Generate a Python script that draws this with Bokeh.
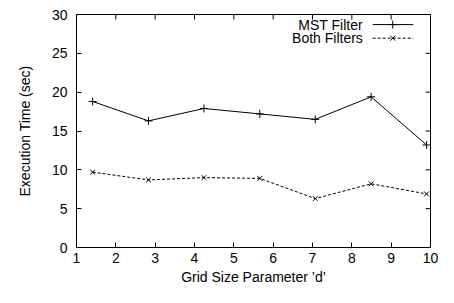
import math
from bokeh.plotting import figure
from bokeh.models import FixedTicker, Range1d, Label
from bokeh.embed import file_html
from bokeh.resources import INLINE

# ---- data ----
grid_d = [1.41, 2.83, 4.24, 5.66, 7.07, 8.49, 9.90]
mst_filter = [18.8, 16.3, 17.9, 17.2, 16.5, 19.4, 13.2]
both_filters = [9.7, 8.7, 9.0, 8.9, 6.3, 8.2, 6.9]
series_names = ["MST Filter", "Both Filters"]
x_ticks = [1, 2, 3, 4, 5, 6, 7, 8, 9, 10]
y_ticks = [0, 5, 10, 15, 20, 25, 30]
x_label = "Grid Size Parameter \u2019d\u2019"
y_label = "Execution Time (sec)"

FONT = "Liberation Sans"
FS = "14px"
X_MIN, X_MAX = 1, 10
Y_MIN, Y_MAX = 0, 30

p = figure(width=438, height=287,
           x_range=Range1d(X_MIN, X_MAX), y_range=Range1d(Y_MIN, Y_MAX),
           output_backend="svg", toolbar_location=None,
           min_border_left=76, min_border_right=8,
           min_border_top=14, min_border_bottom=38)

p.xgrid.visible = False
p.ygrid.visible = False
p.outline_line_color = "black"
p.outline_line_width = 1
p.background_fill_color = "white"
p.border_fill_color = "white"

for ax, ticks in ((p.xaxis[0], x_ticks), (p.yaxis[0], y_ticks)):
    ax.ticker = FixedTicker(ticks=ticks)
    ax.minor_tick_line_color = None
    ax.major_tick_in = 5
    ax.major_tick_out = 0
    ax.axis_line_color = "black"
    ax.major_tick_line_color = "black"
    ax.major_label_text_font = FONT
    ax.major_label_text_font_size = FS
    ax.major_label_text_color = "black"
    ax.axis_label_text_font = FONT
    ax.axis_label_text_font_size = FS
    ax.axis_label_text_font_style = "normal"
    ax.axis_label_text_color = "black"

p.xaxis.axis_label = x_label
p.yaxis.axis_label = y_label
p.xaxis.major_label_standoff = 5
p.xaxis.axis_label_standoff = 3
p.yaxis.major_label_standoff = 9
p.yaxis.axis_label_standoff = 16

# mirrored inward ticks on top and right (screen-length rays)
p.ray(x=x_ticks, y=[Y_MAX] * len(x_ticks), length=5, length_units="screen",
      angle=-math.pi / 2, line_color="black", line_width=1)
p.ray(x=[X_MAX] * len(y_ticks), y=y_ticks, length=5, length_units="screen",
      angle=math.pi, line_color="black", line_width=1)

# series
p.line(grid_d, mst_filter, line_color="black", line_width=1)
p.scatter(grid_d, mst_filter, marker="cross", size=8,
          line_color="black", line_width=1)
p.line(grid_d, both_filters, line_color="black", line_width=1,
       line_dash="3 2")
p.scatter(grid_d, both_filters, marker="x", size=7,
          line_color="black", line_width=1)

# custom legend (text left of sample, as in gnuplot)
LEG_TEXT_X = 8.28
LEG_X0, LEG_X1, LEG_XM = 8.53, 9.56, 9.04
LEG_Y = [28.7, 26.95]
styles = [("cross", 8, None), ("x", 7, "3 2")]
for name, ly, (mk, sz, dash) in zip(series_names, LEG_Y, styles):
    p.add_layout(Label(x=LEG_TEXT_X, y=ly, text=name, text_align="right",
                       text_baseline="middle", text_font=FONT,
                       text_font_size=FS, text_color="black"))
    if dash:
        p.line([LEG_X0, LEG_X1], [ly, ly], line_color="black",
               line_width=1, line_dash=dash)
    else:
        p.line([LEG_X0, LEG_X1], [ly, ly], line_color="black", line_width=1)
    p.scatter([LEG_XM], [ly], marker=mk, size=sz, line_color="black",
              line_width=1)

open("out.html", "w").write(file_html(p, INLINE))
